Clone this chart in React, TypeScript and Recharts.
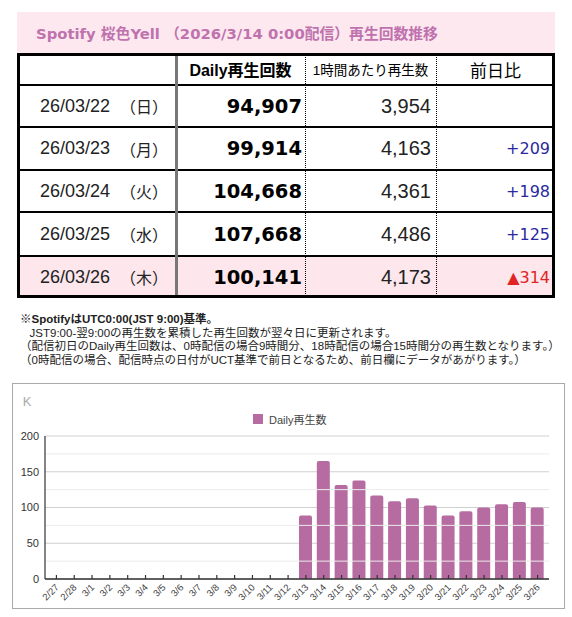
import React from "react";
import {
  BarChart,
  Bar,
  XAxis,
  YAxis,
  CartesianGrid,
  ReferenceLine,
  Legend,
} from "recharts";

// ---- table data ----
const tableDates = ["26/03/22", "26/03/23", "26/03/24", "26/03/25", "26/03/26"];
const weekdays = ["日", "月", "火", "水", "木"];
const dailyPlays = [94907, 99914, 104668, 107668, 100141];
const hourlyPlays = [3954, 4163, 4361, 4486, 4173];
const dayDiff: (number | null)[] = [null, 209, 198, 125, -314];

// ---- chart data (K plays) ----
const chartDates = [
  "2/27", "2/28", "3/1", "3/2", "3/3", "3/4", "3/5", "3/6", "3/7", "3/8",
  "3/9", "3/10", "3/11", "3/12", "3/13", "3/14", "3/15", "3/16", "3/17", "3/18",
  "3/19", "3/20", "3/21", "3/22", "3/23", "3/24", "3/25", "3/26",
];
const dailyK: (number | null)[] = [
  null, null, null, null, null, null, null, null, null, null,
  null, null, null, null, 88.8, 165.1, 131.6, 137.6, 116.7, 108.9,
  113.0, 102.7, 88.8, 94.9, 99.9, 104.7, 107.7, 100.1,
];
const yTicks = [0, 50, 100, 150, 200];
const minorTicks = [25, 75, 125, 175];

const seriesName = "Daily再生数";
const barColor = "#b66ca1";

const chartData = chartDates.map((d, i) => ({ date: d, [seriesName]: dailyK[i] }));

const SANS = '"Liberation Sans", "Noto Sans CJK JP", sans-serif';
const WIDE = '"DejaVu Sans", "Noto Sans CJK JP", sans-serif';

const COLS = [17, 176, 305, 436, 555];
const ROWS = [53, 85, 127, 170, 212, 256, 298];

function DateTick({ x, y, payload }: any) {
  return (
    <g>
      <line x1={x} x2={x} y1={y - 4} y2={y} stroke="#333" strokeWidth={1.2} />
      <text
        x={x + 3}
        y={y + 9}
        transform={`rotate(-45 ${x + 3} ${y + 9})`}
        textAnchor="end"
        fontSize={9.5}
        fill="#444"
      >
        {payload.value}
      </text>
    </g>
  );
}

function UnitLabel({ viewBox }: any) {
  return (
    <text
      x={viewBox.x + 15}
      y={viewBox.y - 35}
      textAnchor="middle"
      dominantBaseline="central"
      fontSize={13}
      fill="#aaa"
    >
      K
    </text>
  );
}

function LegendContent() {
  return (
    <div style={{ height: 16, display: "flex", alignItems: "center", paddingLeft: 241 }}>
      <span style={{ width: 10, height: 10, background: barColor, display: "inline-block" }} />
      <span style={{ marginLeft: 6, fontSize: 11, color: "#444" }}>{seriesName}</span>
    </div>
  );
}

function cell(left: number, top: number, width: number, height: number, style: React.CSSProperties, content: React.ReactNode, key: string) {
  return (
    <div
      key={key}
      style={{
        position: "absolute",
        left,
        top,
        width,
        height,
        display: "flex",
        alignItems: "center",
        boxSizing: "border-box",
        ...style,
      }}
    >
      {content}
    </div>
  );
}

export default function App() {
  const cells: React.ReactNode[] = [];
  const w = (c: number) => COLS[c + 1] - COLS[c];
  const h = (r: number) => ROWS[r + 1] - ROWS[r];

  // header
  cells.push(
    cell(COLS[1], ROWS[0], w(1), h(0), { justifyContent: "center", fontWeight: 700, fontSize: 16 }, "Daily再生回数", "h1"),
    cell(COLS[2], ROWS[0], w(2), h(0), { justifyContent: "center", fontSize: 13.5 }, "1時間あたり再生数", "h2"),
    cell(COLS[3], ROWS[0], w(3), h(0), { justifyContent: "center", fontSize: 17 }, "前日比", "h3")
  );

  tableDates.forEach((d, i) => {
    const r = i + 1;
    const diff = dayDiff[i];
    cells.push(
      cell(COLS[0], ROWS[r], w(0), h(r), { fontSize: 18, color: "#222" }, (
        <>
          <span style={{ position: "absolute", left: 23 }}>{d}</span>
          <span style={{ position: "absolute", left: 103, fontSize: 16 }}>（{weekdays[i]}）</span>
        </>
      ), `d${i}`),
      cell(COLS[1], ROWS[r], w(1), h(r), { justifyContent: "flex-end", paddingRight: 3, fontFamily: WIDE, fontWeight: 700, fontSize: 19.5, color: "#000" },
        dailyPlays[i].toLocaleString("en-US"), `p${i}`),
      cell(COLS[2], ROWS[r], w(2), h(r), { justifyContent: "flex-end", paddingRight: 5, fontSize: 20, color: "#222" },
        hourlyPlays[i].toLocaleString("en-US"), `hr${i}`),
      cell(COLS[3], ROWS[r], w(3), h(r), { justifyContent: "flex-end", paddingRight: 5, fontFamily: WIDE, fontSize: 16, color: diff !== null && diff < 0 ? "#e02424" : "#2a2aa0" },
        diff === null ? "" : diff < 0 ? `▲${Math.abs(diff)}` : `+${diff}`, `df${i}`)
    );
  });

  return (
    <div
      style={{
        position: "absolute",
        left: 0,
        top: 0,
        width: 572,
        height: 617,
        background: "#fff",
        overflow: "hidden",
        fontFamily: SANS,
      }}
    >
      {/* title band */}
      <div
        style={{
          position: "absolute",
          left: 17,
          top: 12,
          width: 538,
          height: 41,
          background: "#fde8ef",
          display: "flex",
          alignItems: "center",
          paddingLeft: 19,
          boxSizing: "border-box",
          color: "#bf72ad",
          fontFamily: WIDE,
          fontWeight: 700,
          fontSize: 14.8,
          whiteSpace: "pre",
        }}
      >
        Spotify 桜色Yell （2026/3/14 0:00配信）再生回数推移
      </div>

      {/* table */}
      <div style={{ position: "absolute", left: 17, top: ROWS[5], width: 538, height: ROWS[6] - ROWS[5], background: "#fde6ec" }} />
      {cells}
      {ROWS.slice(1, 6).map((y) => (
        <div key={`hl${y}`} style={{ position: "absolute", left: 17, top: y - 1, width: 538, height: 2, background: "#000" }} />
      ))}
      <div style={{ position: "absolute", left: COLS[1] - 1, top: ROWS[0], width: 3, height: ROWS[6] - ROWS[0], background: "#777" }} />
      {[COLS[2], COLS[3]].map((x) => (
        <div key={`vl${x}`} style={{ position: "absolute", left: x, top: ROWS[0], height: ROWS[6] - ROWS[0], borderLeft: "1px dotted #000" }} />
      ))}
      <div
        style={{
          position: "absolute",
          left: 17,
          top: ROWS[0],
          width: 538,
          height: ROWS[6] - ROWS[0],
          border: "3px solid #000",
          boxSizing: "border-box",
        }}
      />

      {/* notes */}
      <div
        style={{
          position: "absolute",
          left: 20,
          top: 313,
          fontSize: 11.5,
          lineHeight: "13.5px",
          color: "#222",
          whiteSpace: "pre",
        }}
      >
        <div>
          ※<b>SpotifyはUTC0:00(JST 9:00)基準。</b>
        </div>
        <div>{"   JST9:00-翌9:00の再生数を累積した再生回数が翌々日に更新されます。"}</div>
        <div>（配信初日のDaily再生回数は、0時配信の場合9時間分、18時配信の場合15時間分の再生数となります。）</div>
        <div>（0時配信の場合、配信時点の日付がUCT基準で前日となるため、前日欄にデータがあがります。）</div>
      </div>

      {/* chart */}
      <div
        style={{
          position: "absolute",
          left: 12,
          top: 383,
          width: 553,
          height: 226,
          border: "1px solid #aaa",
          boxSizing: "border-box",
        }}
      />
      <div style={{ position: "absolute", left: 12, top: 383 }}>
        <BarChart
          width={553}
          height={226}
          data={chartData}
          margin={{ top: 37, right: 16, bottom: 0, left: 0 }}
          style={{ fontFamily: SANS }}
        >
          <CartesianGrid vertical={false} stroke="#d0d0d0" />
          {minorTicks.map((t) => (
            <ReferenceLine key={t} y={t} stroke="#ececec" />
          ))}
          <Legend
            verticalAlign="top"
            content={<LegendContent />}
            wrapperStyle={{ top: 28, left: 0, width: 553 }}
          />
          <YAxis
            width={33}
            domain={[0, 200]}
            ticks={yTicks}
            tickLine={false}
            tickSize={0}
            tickMargin={6}
            axisLine={{ stroke: "#333", strokeWidth: 1.2 }}
            tick={{ fontSize: 11, fill: "#333" }}
            label={<UnitLabel />}
          />
          <Bar
            dataKey={seriesName}
            fill={barColor}
            barSize={13}
            radius={[2, 2, 0, 0]}
            isAnimationActive={false}
          />
          <XAxis
            dataKey="date"
            height={30}
            interval={0}
            padding={{ left: 2.5, right: 2.5 }}
            tickLine={false}
            tickSize={0}
            tickMargin={0}
            axisLine={{ stroke: "#333", strokeWidth: 1.5 }}
            tick={<DateTick />}
          />
        </BarChart>
      </div>
    </div>
  );
}
